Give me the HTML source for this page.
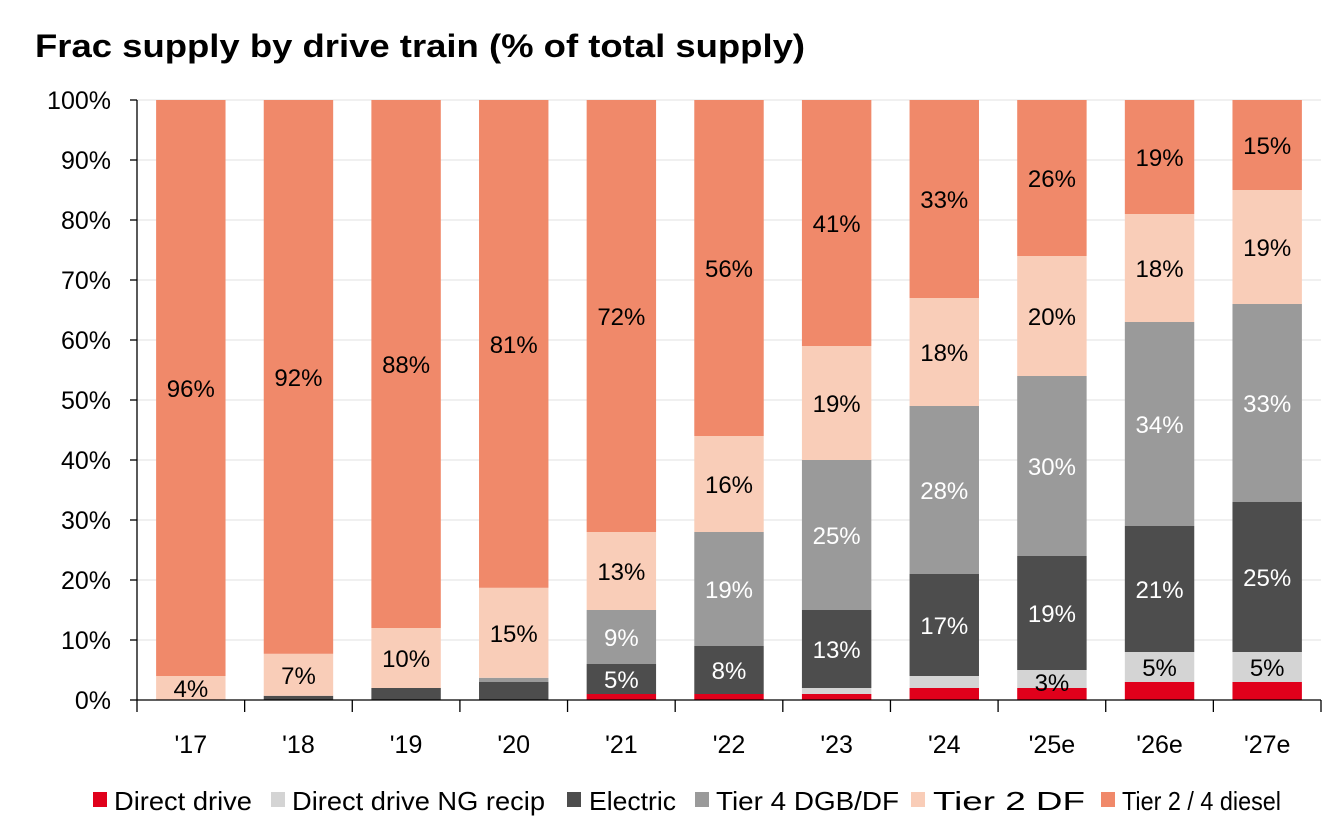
<!DOCTYPE html>
<html><head><meta charset="utf-8"><style>
html,body{margin:0;padding:0;background:#fff;}
svg{display:block;font-family:"Liberation Sans",sans-serif;}
</style></head><body>
<svg id="chart" width="1333" height="825" viewBox="0 0 1333 825" xmlns="http://www.w3.org/2000/svg">
<text x="35" y="57" font-weight="bold" font-size="32" fill="#000" textLength="770" lengthAdjust="spacingAndGlyphs">Frac supply by drive train (% of total supply)</text>
<g id="grid"></g><g id="bars"></g><g id="axes"></g><g id="legend"></g>
</svg>
<script>
const categories = ["'17","'18","'19","'20","'21","'22","'23","'24","'25e","'26e","'27e"];
const directDrive = [0,0,0,0,1,1,1,2,2,3,3];
const ngRecip     = [0,0,0,0,0,0,1,2,3,5,5];
const electric    = [0,0.7,2,3,5,8,13,17,19,21,25];
const tier4       = [0,0,0,0.7,9,19,25,28,30,34,33];
const tier2df     = [4,7,10,15,13,16,19,18,20,18,19];
const diesel      = [96,92.3,88,81.3,72,56,41,33,26,19,15];
const yTicks = [0,10,20,30,40,50,60,70,80,90,100];
const seriesNames = ["Direct drive","Direct drive NG recip","Electric","Tier 4 DGB/DF","Tier 2 DF","Tier 2 / 4 diesel"];

const series = [directDrive, ngRecip, electric, tier4, tier2df, diesel];
const colors = ["#E0001B","#D4D4D4","#4D4D4D","#9A9A9A","#F9CDB8","#F0896A"];
const textCol = ["#000","#000","#fff","#fff","#000","#000"];
const x0 = 137, x1 = 1321, y0 = 700, y1 = 100;
const band = (x1 - x0) / categories.length;
const bw = band * 0.645;
const y = v => y0 - (v / 100) * (y0 - y1);
const xc = i => x0 + band * (i + 0.5);
const NS = "http://www.w3.org/2000/svg";
function mk(tag, attrs, parent, txt) {
  const e = document.createElementNS(NS, tag);
  for (const k in attrs) e.setAttribute(k, attrs[k]);
  if (txt !== undefined) e.textContent = txt;
  parent.appendChild(e);
  return e;
}
const grid = document.getElementById('grid'), bars = document.getElementById('bars'),
      axes = document.getElementById('axes'), legend = document.getElementById('legend');
yTicks.forEach(t => {
  if (t > 0) {
    const g = mk('line', {x1: x0, x2: x1, y1: y(t), y2: y(t), stroke: '#ececec', 'stroke-width': 1.5}, grid);
    
    
  }
  const tk = mk('line', {x1: x0 - 7, x2: x0, y1: y(t), y2: y(t), stroke: '#000', 'stroke-width': 1.3}, axes);
  
  
  const lb = mk('text', {x: 111, y: y(t) + 9, 'text-anchor': 'end', 'font-size': 25, fill: '#000'}, axes, t + '%');
  
  
});
categories.forEach((c, i) => {
  let cum = 0;
  series.forEach((s, k) => {
    const v = s[i];
    if (v > 0) {
      const r = mk('rect', {x: xc(i) - bw / 2, y: y(cum + v), width: bw, height: y(cum) - y(cum + v), fill: colors[k]}, bars);
      
      
      const show = v >= 4 || (k === 1 && v >= 3);
      if (show) {
        let ty = (y(cum) + y(cum + v)) / 2 + 9;
        if (k === 1 && v < 4) ty = y(cum) + 3;
        const t = mk('text', {x: xc(i), y: ty, 'text-anchor': 'middle', 'font-size': 24, fill: textCol[k]}, bars, Math.round(v) + '%');
        
        
      }
    }
    cum += v;
  });
  const xl = mk('text', {x: xc(i), y: 753, 'text-anchor': 'middle', 'font-size': 25, fill: '#000'}, axes, c);
  
  
});
for (let i = 0; i <= categories.length; i++) {
  const tk = mk('line', {x1: x0 + band * i, x2: x0 + band * i, y1: y0, y2: y0 + 12, stroke: '#000', 'stroke-width': 1.3}, axes);
  
  
}
const ya = mk('line', {x1: x0, x2: x0, y1: y1, y2: y0, stroke: '#000', 'stroke-width': 1.3}, axes);


const xa = mk('line', {x1: x0, x2: x1, y1: y0, y2: y0, stroke: '#000', 'stroke-width': 1.3}, axes);


const legPos = [[93,114,138],[271,292,253],[567,589,87],[695,716,183],[911,933,152],[1101,1122,159]];
seriesNames.forEach((n, k) => {
  const p = legPos[k];
  const sq = mk('rect', {x: p[0], y: 792, width: 14, height: 15, fill: colors[k]}, legend);
  
  
  const t = mk('text', {x: p[1], y: 810, 'font-size': 26, fill: '#000', textLength: p[2], lengthAdjust: 'spacingAndGlyphs'}, legend, n);
  
  
});
</script>
</body></html>
